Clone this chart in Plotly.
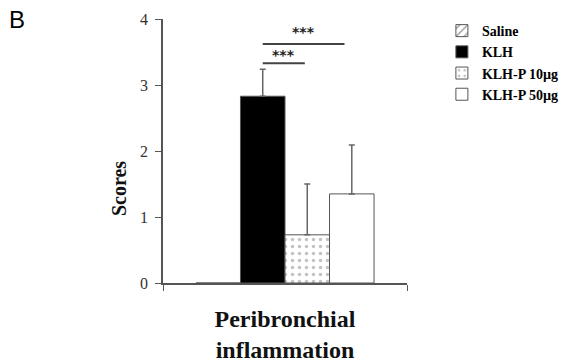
import plotly.graph_objects as go

category = ["Peribronchial inflammation"]
groups = ["Saline", "KLH", "KLH-P 10µg", "KLH-P 50µg"]
scores = [0.0, 2.83, 0.73, 1.35]
errors_up = [0.0, 0.41, 0.77, 0.74]
fill_colors = ["white", "black", "white", "white"]
patterns = ["/", "", ".", ""]
y_ticks = [0, 1, 2, 3, 4]

BARGAP = 0.27
serif = "Liberation Serif, Times New Roman, serif"
axis_col = "#555555"

fig = go.Figure()
for name, val, err, col, pat in zip(groups, scores, errors_up, fill_colors, patterns):
    fig.add_trace(go.Bar(
        x=category, y=[val], name=name,
        marker=dict(color=col, line=dict(color="#555555", width=1),
                    pattern=dict(shape=pat, fgcolor="#888888" if pat == "." else "black",
                                 bgcolor="white", size=7, solidity=0.2)),
        error_y=dict(type="data", array=[err], arrayminus=[0], symmetric=False,
                     visible=err > 0, color="#666666", thickness=1.5, width=3),
    ))

# significance brackets (positions derived from grouped bar geometry)
w = (1 - BARGAP) / len(groups)
centers = [-(1 - BARGAP) / 2 + w * (i + 0.5) for i in range(len(groups))]
sig_pairs = [(1, 2, 3.33, 3.45), (1, 3, 3.62, 3.80)]
for a, b, yl, ys in sig_pairs:
    x0 = centers[a]
    x1 = centers[b] - 0.03 if b == 3 else centers[b] - 0.01
    fig.add_shape(type="line", xref="x", yref="y", x0=x0, x1=x1, y0=yl, y1=yl,
                  line=dict(color="#444444", width=2))
    fig.add_annotation(x=(x0 + x1) / 2, y=ys, xref="x", yref="y", text="<b>***</b>",
                       showarrow=False, font=dict(family="DejaVu Sans", size=14, color="#222"))

fig.add_annotation(x=-0.64, y=1.055, xref="paper", yref="paper", xanchor="left", yanchor="top",
                   text="B", showarrow=False, font=dict(family="Liberation Sans, Arial", size=24, color="black"))

# y-axis title placed lower than centre, as in the original
fig.add_annotation(x=-0.18, y=0.356, xref="paper", yref="paper", xanchor="center", yanchor="middle",
                   text="<b>Scores</b>", textangle=-90, showarrow=False,
                   font=dict(family=serif, size=20, color="#111"))

fig.update_layout(
    width=576, height=363,
    margin=dict(l=163, r=169, t=19, b=80, autoexpand=False),
    paper_bgcolor="white", plot_bgcolor="white",
    barmode="group", bargap=BARGAP, bargroupgap=0,
    showlegend=True,
    legend=dict(x=1.143, y=1.015, xanchor="left", yanchor="top",
                font=dict(family=serif, size=14, color="black", weight="bold"),
                bgcolor="rgba(0,0,0,0)", itemclick=False, tracegroupgap=0),
    xaxis=dict(showticklabels=False, ticks="outside", tickson="boundaries", ticklen=6,
               tickcolor=axis_col, showline=True, linecolor=axis_col, linewidth=1.5,
               automargin=False,
               title=dict(text="<b>Peribronchial<br>inflammation</b>", standoff=26,
                          font=dict(family=serif, size=24, color="#111"))),
    yaxis=dict(range=[0, 4], tickvals=y_ticks, ticks="outside", ticklen=6,
               tickcolor=axis_col, showline=True, linecolor=axis_col, linewidth=1.5,
               showgrid=False, zeroline=False, automargin=False, ticklabelstandoff=4,
               tickfont=dict(family=serif, size=16, color="#333")),
)

fig.write_html("out.html", post_script="document.body.style.margin='0';",
               config={"displayModeBar": False})
